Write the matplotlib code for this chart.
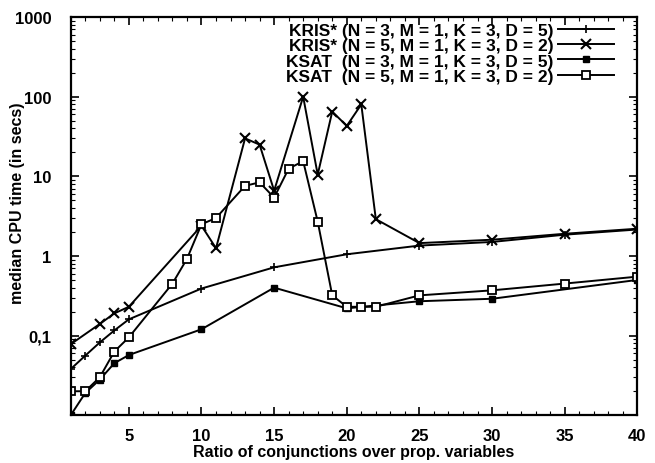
import numpy as np
import matplotlib
matplotlib.use("Agg")
import matplotlib.pyplot as plt
from matplotlib.ticker import FixedLocator, FixedFormatter, LogLocator, NullFormatter, MultipleLocator

plt.rcParams['font.family'] = ['Liberation Sans', 'DejaVu Sans']
plt.rcParams['font.weight'] = 'bold'

# KRIS* (N=3, D=5)
x1 = [1, 2, 3, 4, 5, 10, 15, 20, 25, 30, 35, 40]
y1 = [0.038, 0.056, 0.082, 0.116, 0.16, 0.39, 0.72, 1.05, 1.35, 1.5, 1.85, 2.15]

# KRIS* (N=5, D=2)
x2 = [1, 3, 4, 5, 10, 11, 13, 14, 15, 17, 18, 19, 20, 21, 22, 25, 30, 35, 40]
y2 = [0.078, 0.14, 0.19, 0.23, 2.4, 1.25, 30, 25, 6.6, 100, 10.5, 65, 43, 80, 2.9, 1.45, 1.6, 1.9, 2.2]

# KSAT (N=3, D=5)
x3 = [1, 2, 3, 4, 5, 10, 15, 20, 25, 30, 40]
y3 = [0.01, 0.019, 0.028, 0.045, 0.057, 0.12, 0.4, 0.22, 0.27, 0.29, 0.5]

# KSAT (N=5, D=2)
x4 = [1, 2, 3, 4, 5, 8, 9, 10, 11, 13, 14, 15, 16, 17, 18, 19, 20, 21, 22, 25, 30, 35, 40]
y4 = [0.02, 0.02, 0.03, 0.063, 0.095, 0.45, 0.92, 2.5, 3.0, 7.6, 8.4, 5.4, 12.5, 15.5, 2.7,
      0.32, 0.23, 0.23, 0.23, 0.32, 0.37, 0.45, 0.55]

labels = ["KRIS* (N = 3, M = 1, K = 3, D = 5)",
          "KRIS* (N = 5, M = 1, K = 3, D = 2)",
          "KSAT  (N = 3, M = 1, K = 3, D = 5)",
          "KSAT  (N = 5, M = 1, K = 3, D = 2)"]

ytick_vals = [0.1, 1, 10, 100, 1000]
ytick_text = ["0,1", "1", "10", "100", "1000"]
xtick_vals = [5, 10, 15, 20, 25, 30, 35, 40]

fig = plt.figure(figsize=(6.55, 4.64), dpi=100)
ax = fig.add_axes([0.108, 0.103, 0.865, 0.858])

ax.plot(x1, y1, color='black', lw=1.4, marker='+', ms=6, mew=1.2, label=labels[0])
ax.plot(x2, y2, color='black', lw=1.4, marker='x', ms=7, mew=1.5, label=labels[1])
ax.plot(x3, y3, color='black', lw=1.4, marker='s', ms=5, label=labels[2])
ax.plot(x4, y4, color='black', lw=1.4, marker='s', ms=6, mfc='white', mew=1.3, label=labels[3])

ax.set_yscale('log')
ax.set_xlim(1, 40)
ax.set_ylim(0.01, 1000)

ax.yaxis.set_major_locator(FixedLocator(ytick_vals))
ax.yaxis.set_major_formatter(FixedFormatter(ytick_text))
ax.yaxis.set_minor_locator(LogLocator(base=10, subs=np.arange(2, 10)))
ax.yaxis.set_minor_formatter(NullFormatter())
ax.xaxis.set_major_locator(FixedLocator(xtick_vals))
ax.xaxis.set_minor_locator(MultipleLocator(1))

ax.tick_params(which='both', direction='in', top=True, right=True, labelsize=12)
ax.tick_params(which='major', length=6, width=1.2)
ax.tick_params(which='minor', length=3, width=0.8)
ax.tick_params(axis='y', pad=14)
ax.tick_params(axis='x', pad=9)
for s in ax.spines.values():
    s.set_linewidth(1.6)

ax.set_xlabel('Ratio of conjunctions over prop. variables', fontsize=11.5, fontweight='bold', labelpad=1)
ax.set_ylabel('median CPU time (in secs)', fontsize=11.5, fontweight='bold')
ax.yaxis.set_label_coords(-0.08, 0.535)

ax.legend(loc='upper right', bbox_to_anchor=(0.958, 0.985), frameon=False, markerfirst=False,
          fontsize=12.5, handlelength=3.2, labelspacing=0.0, borderaxespad=0, borderpad=0,
          handletextpad=0.25)

fig.savefig('out.png', dpi=100)
